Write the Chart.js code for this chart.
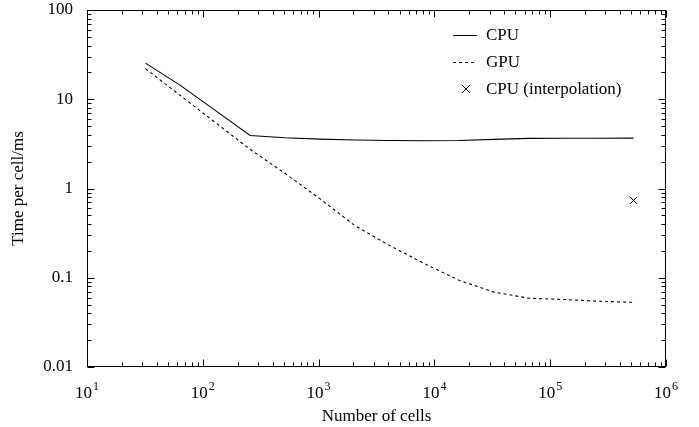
<!DOCTYPE html>
<html>
<head>
<meta charset="utf-8">
<script src="https://cdn.jsdelivr.net/npm/chart.js@4"></script>
<style>
  body { margin: 0; background: #fff; }
  canvas { display: block; }
</style>
</head>
<body>
<canvas id="chart" width="699" height="427"></canvas>
<script>
// Data
const cells = [32, 64, 128, 256, 512, 1024, 2048, 4096, 8192, 16384, 32768, 65536, 131072, 262144, 524288];
const cpuTime = [25.4, 14.3, 7.5, 3.93, 3.7, 3.57, 3.5, 3.45, 3.43, 3.45, 3.55, 3.64, 3.66, 3.66, 3.67];
const gpuTime = [22, 11, 5.5, 2.75, 1.48, 0.77, 0.386, 0.23, 0.144, 0.0935, 0.069, 0.059, 0.057, 0.0545, 0.053];
const interpCells = [524288];
const interpTime = [0.736];

const xExponents = [1, 2, 3, 4, 5, 6];
const yExponents = [-2, -1, 0, 1, 2];
const yTickLabels = ['0.01', '0.1', '1', '10', '100'];

const FONT = '"Liberation Serif", "DejaVu Serif", serif';
const FS = 17;
Chart.defaults.font.family = FONT;
Chart.defaults.color = '#000';

function isDecade(v) {
  const l = Math.log10(v);
  return Math.abs(l - Math.round(l)) < 1e-9;
}

// tick values 1..9 x 10^e over the given decades
function logTicks(exps) {
  const out = [];
  for (let k = 0; k < exps.length; k++) {
    const e = exps[k];
    const last = k === exps.length - 1;
    for (let m = 1; m <= (last ? 1 : 9); m++) out.push(m * Math.pow(10, e));
  }
  return out;
}

// Frame, inward ticks on all four sides, x labels with exponents, legend
const framePlugin = {
  id: 'frame',
  afterDraw(chart) {
    const { ctx, chartArea: a, scales } = chart;
    const xs = scales.x, ys = scales.y;
    ctx.save();
    ctx.setLineDash([]);
    ctx.strokeStyle = '#000';
    ctx.lineWidth = 1;
    const L = Math.round(a.left) + 0.5, R = Math.round(a.right) - 0.5;
    const T = Math.round(a.top) + 0.5, B = Math.round(a.bottom) - 0.5;
    ctx.strokeRect(L, T, R - L, B - T);

    ctx.beginPath();
    logTicks(xExponents).forEach(v => {
      const px = Math.round(xs.getPixelForValue(v)) + 0.5;
      const len = isDecade(v) ? 7 : 4;
      ctx.moveTo(px, B); ctx.lineTo(px, B - len);
      ctx.moveTo(px, T); ctx.lineTo(px, T + len);
    });
    logTicks(yExponents).forEach(v => {
      const py = Math.round(ys.getPixelForValue(v)) + 0.5;
      const len = isDecade(v) ? 7 : 4;
      ctx.moveTo(L, py); ctx.lineTo(L + len, py);
      ctx.moveTo(R, py); ctx.lineTo(R - len, py);
    });
    ctx.stroke();

    // x tick labels: 10 with raised exponent
    ctx.fillStyle = '#000';
    ctx.textBaseline = 'alphabetic';
    ctx.textAlign = 'left';
    xExponents.forEach(e => {
      const px = xs.getPixelForValue(Math.pow(10, e));
      ctx.font = FS + 'px ' + FONT;
      const wb = ctx.measureText('10').width;
      ctx.font = '12px ' + FONT;
      const we = ctx.measureText(String(e)).width;
      const x0 = px - (wb + we + 1) / 2;
      ctx.font = FS + 'px ' + FONT;
      ctx.fillText('10', x0, 398);
      ctx.font = '12px ' + FONT;
      ctx.fillText(String(e), x0 + wb + 1, 390);
    });

    // legend, top right inside the plot
    const rows = [35, 62, 89];
    ctx.font = FS + 'px ' + FONT;
    ctx.textBaseline = 'middle';
    chart.data.datasets.forEach((ds, i) => {
      const y = rows[i];
      ctx.beginPath();
      if (ds.showLine === false) {
        const cx = 466, r = 4;
        ctx.setLineDash([]);
        ctx.moveTo(cx - r, y - r); ctx.lineTo(cx + r, y + r);
        ctx.moveTo(cx + r, y - r); ctx.lineTo(cx - r, y + r);
      } else {
        ctx.setLineDash(ds.borderDash || []);
        ctx.moveTo(453, Math.round(y) + 0.5);
        ctx.lineTo(477, Math.round(y) + 0.5);
      }
      ctx.stroke();
      ctx.setLineDash([]);
      ctx.fillText(ds.label, 486, y + 1);
    });
    ctx.restore();
  }
};

new Chart(document.getElementById('chart'), {
  type: 'scatter',
  data: {
    datasets: [
      {
        label: 'CPU',
        data: cells.map((c, i) => ({ x: c, y: cpuTime[i] })),
        showLine: true,
        borderColor: '#000',
        borderWidth: 1.1,
        pointRadius: 0,
        fill: false
      },
      {
        label: 'GPU',
        data: cells.map((c, i) => ({ x: c, y: gpuTime[i] })),
        showLine: true,
        borderColor: '#000',
        borderWidth: 1.1,
        borderDash: [3, 3],
        pointRadius: 0,
        fill: false
      },
      {
        label: 'CPU (interpolation)',
        data: interpCells.map((c, i) => ({ x: c, y: interpTime[i] })),
        showLine: false,
        pointStyle: 'crossRot',
        pointRadius: 5,
        borderColor: '#000',
        borderWidth: 1
      }
    ]
  },
  options: {
    responsive: false,
    animation: false,
    layout: { padding: { left: 0, right: 33, top: 10, bottom: 0 } },
    plugins: {
      legend: { display: false },
      tooltip: { enabled: false }
    },
    scales: {
      x: {
        type: 'logarithmic',
        min: 10,
        max: 1e6,
        grid: { display: false, drawTicks: false },
        border: { display: false },
        ticks: { display: false, autoSkip: false },
        title: {
          display: true,
          text: 'Number of cells',
          font: { size: FS },
          padding: { top: 0, bottom: 0 }
        },
        afterFit(scale) {
          scale.height = 60;
          scale.paddingLeft = 0;
          scale.paddingRight = 0;
        }
      },
      y: {
        type: 'logarithmic',
        min: 0.01,
        max: 100,
        grid: { display: false, drawTicks: false },
        border: { display: false },
        ticks: {
          autoSkip: false,
          padding: 14,
          font: { size: FS },
          callback: function(value) {
            if (!isDecade(value)) return '';
            const idx = Math.round(Math.log10(value)) + 2;
            return yTickLabels[idx];
          }
        },
        title: {
          display: true,
          text: 'Time per cell/ms',
          font: { size: FS },
          padding: { top: 8, bottom: 0 }
        },
        afterFit(scale) {
          scale.width = 87;
          scale.paddingTop = 0;
          scale.paddingBottom = 0;
        }
      }
    }
  },
  plugins: [framePlugin]
});
</script>
</body>
</html>
